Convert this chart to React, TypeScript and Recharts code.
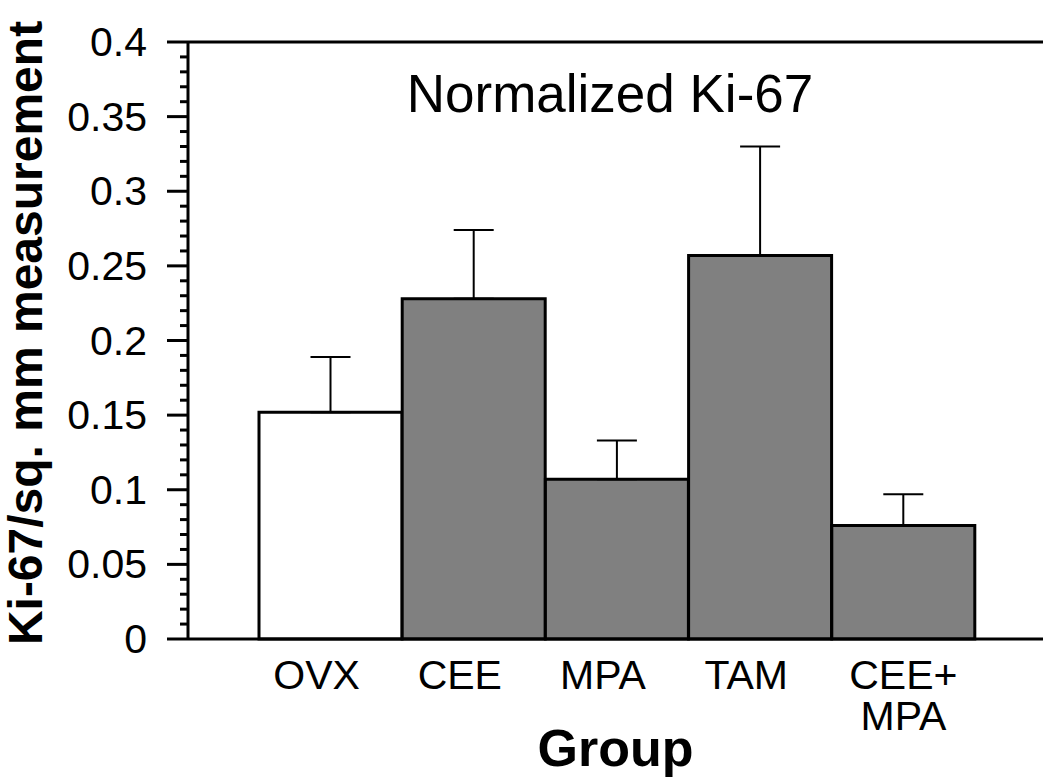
import React from 'react';
import {
    BarChart,
    Bar,
    Cell,
    XAxis,
    YAxis,
    ErrorBar,
    ReferenceLine,
} from 'recharts';

// values
const groups = ['OVX', 'CEE', 'MPA', 'TAM', 'CEE+ MPA'];
const ki67 = [0.152, 0.228, 0.107, 0.257, 0.076];
const ki67ErrUp = [0.037, 0.046, 0.026, 0.073, 0.021];
const yTicks = Array.from({ length: 41 }, (_, i) => +(i * 0.01).toFixed(2));

const BAR_FILLS = ['#ffffff', '#808080', '#808080', '#808080', '#808080'];
const FONT = '"Liberation Sans", Arial, sans-serif';

const data = groups.map((g, i) => ({
    group: g,
    value: ki67[i],
    err: [0, ki67ErrUp[i]],
}));

const YTick = ({ x, y, payload }: any) => {
    const v = payload.value;
    const major = Math.round(v * 100) % 5 === 0;
    return (
        <g>
            <line x1={x - (major ? 21 : 8)} x2={x} y1={y} y2={y} stroke="#000" strokeWidth={3} />
            {major && (
                <text x={x - 41} y={y + 14} textAnchor="end" fontSize={41} fontFamily={FONT} fill="#000">
                    {v === 0 ? '0' : String(v)}
                </text>
            )}
        </g>
    );
};

const XTick = ({ x, y, payload }: any) => {
    const lines = String(payload.value).split(' ');
    const dx = lines.length > 1 ? 0 : -14;
    return (
        <text x={x + dx} y={y + 50} textAnchor="middle" fontSize={41} fontFamily={FONT} fill="#000">
            {lines.map((l, i) => (
                <tspan key={l} x={x + dx} dy={i === 0 ? 0 : 41}>{l}</tspan>
            ))}
        </text>
    );
};

export default function App() {
    return (
        <div style={{ position: 'absolute', left: 0, top: 0, background: '#fff' }}>
            <BarChart
                width={1050}
                height={779}
                data={data}
                margin={{ top: 42, right: 7, left: 0, bottom: 0 }}
                barCategoryGap={0}
            >
                <XAxis
                    dataKey="group"
                    height={140}
                    padding={{ left: 71, right: 68 }}
                    axisLine={{ stroke: '#000', strokeWidth: 3 }}
                    tickLine={false}
                    tickSize={0}
                    tickMargin={0}
                    tick={<XTick />}
                    interval={0}
                    label={{
                        value: 'Group',
                        position: 'insideBottom',
                        offset: 13,
                        fontSize: 52,
                        fontWeight: 'bold',
                        fontFamily: FONT,
                        fill: '#000',
                    }}
                />
                <YAxis
                    yAxisId="left"
                    width={188}
                    domain={[0, 0.4]}
                    ticks={yTicks}
                    interval={0}
                    axisLine={{ stroke: '#000', strokeWidth: 3 }}
                    tickLine={false}
                    tickSize={0}
                    tickMargin={0}
                    tick={<YTick />}
                    label={{
                        content: () => (
                            <text
                                x={42}
                                y={333}
                                transform="rotate(-90 42 333)"
                                textAnchor="middle"
                                fontSize={48}
                                fontWeight="bold"
                                fontFamily={FONT}
                                fill="#000"
                            >
                                Ki-67/sq. mm measurement
                            </text>
                        ),
                    }}
                />
                <YAxis
                    yAxisId="right"
                    orientation="right"
                    width={0}
                    domain={[0, 0.4]}
                    tick={false}
                    tickLine={false}
                    axisLine={{ stroke: '#000', strokeWidth: 3 }}
                />
                <ReferenceLine
                    yAxisId="left"
                    y={0.4}
                    stroke="#000"
                    strokeWidth={3}
                    label={{
                        content: () => (
                            <text x={610} y={112} textAnchor="middle" fontSize={53} fontFamily={FONT} fill="#000">
                                Normalized Ki-67
                            </text>
                        ),
                    }}
                />
                <Bar yAxisId="left" dataKey="value" stroke="#000" strokeWidth={3} isAnimationActive={false}>
                    {data.map((d, i) => (
                        <Cell key={d.group} fill={BAR_FILLS[i]} />
                    ))}
                    <ErrorBar
                        dataKey="err"
                        direction="y"
                        width={20}
                        stroke="#000"
                        strokeWidth={2}
                        isAnimationActive={false}
                    />
                </Bar>
            </BarChart>
        </div>
    );
}
